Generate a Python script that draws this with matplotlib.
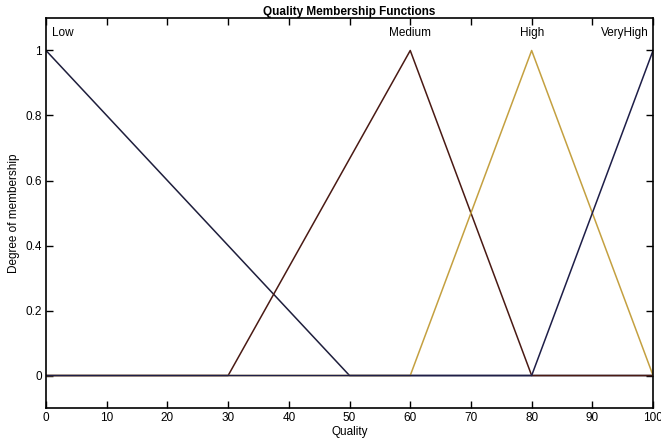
import matplotlib
matplotlib.use("Agg")
import matplotlib.pyplot as plt

# membership function breakpoints over the Quality domain
quality = [0, 100]
mf_names = ["Low", "Medium", "High", "VeryHigh"]
mf_x = [
    [0, 0, 50, 100],
    [0, 30, 60, 80, 100],
    [0, 60, 80, 100],
    [0, 80, 100],
]
mf_y = [
    [1, 1, 0, 0],
    [0, 0, 1, 0, 0],
    [0, 0, 1, 0],
    [0, 0, 1],
]
mf_peaks = [0, 60, 80, 100]
mf_colors = ["#1e1e3c", "#4a1a14", "#c4a040", "#1e1e48"]
label_align = ["left", "center", "center", "right"]

xticks = [0, 10, 20, 30, 40, 50, 60, 70, 80, 90, 100]
yticks = [0, 0.2, 0.4, 0.6, 0.8, 1]

plt.rcParams['font.family'] = ['Liberation Sans', 'DejaVu Sans']

fig = plt.figure(figsize=(6.61, 4.44), dpi=100)
ax = fig.add_axes([0.0696, 0.081, 0.9184, 0.8785])

for xs, ys, c in zip(mf_x, mf_y, mf_colors):
    ax.plot(xs, ys, color=c, linewidth=1.1)

for name, px, ha in zip(mf_names, mf_peaks, label_align):
    offs = {"left": 1, "center": 0, "right": -0.8}[ha]
    ax.text(px + offs, 1.035, name, ha=ha, va="bottom", fontsize=8.5)

ax.set_xlim(quality[0], quality[1])
ax.set_ylim(-0.1, 1.1)
ax.set_xticks(xticks)
ax.set_xticklabels([str(t) for t in xticks])
ax.set_yticks(yticks)
ax.set_yticklabels(["0", "0.2", "0.4", "0.6", "0.8", "1"])
ax.tick_params(direction="in", length=5, width=1, top=True, right=True, labelsize=8.5, pad=3)
for s in ax.spines.values():
    s.set_linewidth(1.2)

ax.set_title("Quality Membership Functions", fontsize=8.5, fontweight="bold", pad=2)
ax.set_xlabel("Quality", fontsize=8.5, labelpad=1)
ax.set_ylabel("Degree of membership", fontsize=8.5, labelpad=4)

fig.savefig("out.png", dpi=100)
